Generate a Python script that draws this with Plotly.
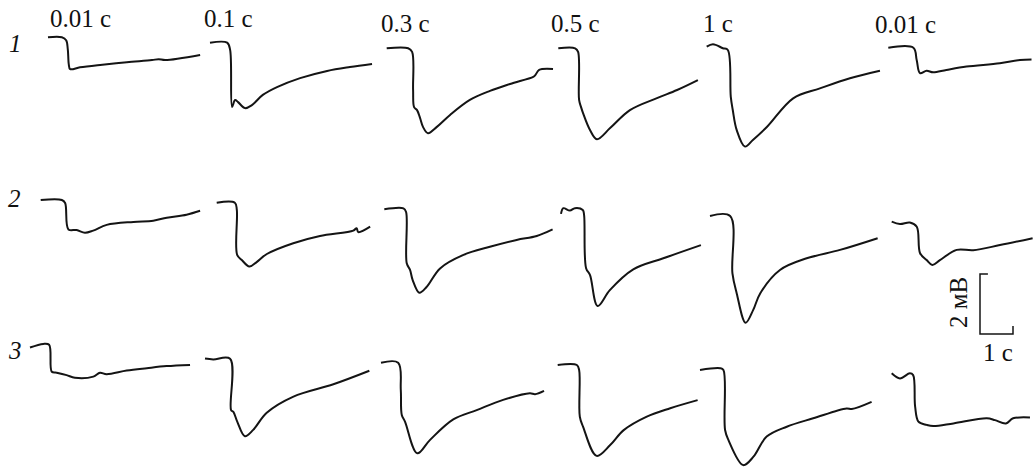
import plotly.graph_objects as go

W, H = 1033, 467
PX_PER_S = 33.0     # horizontal scale: 1 s
PX_PER_MV = 30.0    # vertical scale: 1 mV

# Stimulus durations (column headers) and series numbers (row labels)
STIM_LABELS = ["0.01 c", "0.1 c", "0.3 c", "0.5 c", "1 c", "0.01 c"]
ROW_LABELS = ["1", "2", "3"]

# Responses: time from sweep start (s) and potential relative to baseline (mV)
# series 1
t_1_1 = [0, 0.42, 0.55, 0.6, 0.63, 0.67, 0.97, 1.58, 2.39, 3.15, 3.35, 3.55, 4.61]
v_1_1 = [0, 0, -0.1, -0.4, -0.9, -1.06, -1.0, -0.92, -0.83, -0.76, -0.73, -0.76, -0.59]
t_1_2 = [0, 0.52, 0.61, 0.67, 0.76, 0.85, 1.06, 1.27, 1.6, 2.03, 2.73, 3.55, 4.24, 4.91]
v_1_2 = [0, 0, -0.24, -2.14, -1.91, -1.98, -2.18, -2.08, -1.74, -1.48, -1.18, -0.94, -0.81, -0.71]
t_1_3 = [0, 0.65, 0.77, 0.80, 0.83, 0.92, 1.01, 1.10, 1.25, 1.52, 1.92, 2.52, 3.13, 3.74, 4.44, 4.5, 4.62, 5.04]
v_1_3 = [0, 0, -0.12, -1.39, -1.96, -2.06, -2.32, -2.62, -2.83, -2.62, -2.22, -1.72, -1.42, -1.19, -0.95, -0.9, -0.72, -0.69]
t_1_4 = [0, 0.51, 0.60, 0.63, 0.69, 0.75, 0.96, 1.17, 1.57, 2.17, 2.99, 3.6, 4.23]
v_1_4 = [0, 0, -0.12, -1.72, -1.96, -2.16, -2.72, -3.03, -2.66, -2.06, -1.66, -1.39, -1.06]
t_1_5 = [0, 0.19, 0.49, 0.64, 0.73, 0.79, 0.91, 1.16, 1.40, 1.83, 2.62, 3.43, 4.34, 5.25]
v_1_5 = [0, 0.08, -0.05, -0.11, -1.67, -2.11, -2.78, -3.33, -3.11, -2.67, -1.72, -1.39, -1.05, -0.8]
t_1_6 = [0, 0.76, 0.86, 0.96, 1.16, 1.36, 1.76, 2.37, 3.38, 3.99, 4.34]
v_1_6 = [0, 0, -0.41, -0.85, -0.77, -0.82, -0.74, -0.63, -0.52, -0.41, -0.39]
# series 2
t_2_1 = [0, 0.64, 0.74, 0.84, 1.09, 1.34, 1.59, 2.0, 2.81, 3.41, 3.82, 4.42, 4.83]
v_2_1 = [0, 0, -0.1, -0.98, -1.0, -1.09, -1.02, -0.83, -0.73, -0.69, -0.59, -0.49, -0.36]
t_2_2 = [0, 0.55, 0.61, 0.62, 0.76, 0.99, 1.21, 1.52, 2.32, 3.13, 4.14, 4.24, 4.29, 4.65]
v_2_2 = [0, 0, -0.24, -1.74, -1.91, -2.13, -1.98, -1.71, -1.35, -1.11, -0.93, -0.85, -0.98, -0.8]
t_2_3 = [0, 0.58, 0.66, 0.68, 0.78, 0.86, 1.06, 1.28, 1.69, 2.4, 3.2, 4.01, 4.62, 5.1]
v_2_3 = [0, 0.03, -0.09, -1.8, -2.02, -2.36, -2.78, -2.59, -1.97, -1.52, -1.25, -1.02, -0.89, -0.67]
t_2_4 = [0, 0.07, 0.27, 0.42, 0.66, 0.70, 0.76, 0.88, 1.11, 1.48, 2.19, 3.1, 4.24]
v_2_4 = [-0.13, 0.06, -0.02, 0.06, 0, -0.17, -1.94, -2.17, -3.2, -2.67, -1.98, -1.61, -1.17]
t_2_5 = [0, 0.61, 0.68, 0.81, 1.08, 1.31, 1.52, 2.12, 2.93, 3.94, 5.08]
v_2_5 = [0, 0, -1.91, -2.58, -3.56, -3.13, -2.58, -1.8, -1.41, -1.13, -0.74]
t_2_6 = [0, 0.25, 0.55, 0.76, 0.86, 1.06, 1.23, 1.46, 1.97, 2.47, 3.28, 4.27]
v_2_6 = [0, -0.08, -0.03, -0.17, -1.05, -1.28, -1.44, -1.28, -0.94, -0.95, -0.78, -0.55]
# series 3
t_3_1 = [0, 0.4, 0.58, 0.66, 0.81, 1.11, 1.36, 1.92, 2.12, 2.32, 2.93, 3.54, 4.14, 4.85]
v_3_1 = [-0.05, 0.07, 0.04, -0.86, -0.89, -0.97, -1.06, -1.02, -0.89, -0.94, -0.82, -0.74, -0.67, -0.63]
t_3_2 = [0, 0.25, 0.76, 0.79, 0.86, 0.98, 1.21, 1.46, 1.87, 2.68, 3.89, 4.98]
v_3_2 = [0, -0.03, -0.01, -1.72, -1.78, -2.11, -2.59, -2.38, -1.81, -1.27, -0.86, -0.41]
t_3_3 = [0, 0.52, 0.6, 0.63, 0.73, 1.1, 1.48, 2.19, 2.9, 3.7, 4.51, 4.67, 4.94]
v_3_3 = [0, 0, -0.91, -1.74, -1.97, -3.02, -2.58, -1.89, -1.58, -1.24, -1.02, -1.05, -0.94]
t_3_4 = [0, 0.58, 0.65, 0.67, 0.77, 1.18, 1.59, 2.0, 2.7, 3.41, 4.24]
v_3_4 = [0, 0, -0.17, -1.72, -2.06, -3.03, -2.67, -2.17, -1.72, -1.44, -1.17]
t_3_5 = [0, 0.61, 0.71, 0.76, 0.86, 1.31, 1.62, 2.02, 2.63, 3.43, 4.44, 4.6, 5.2]
v_3_5 = [0, 0.06, 0, -2.0, -2.33, -3.17, -2.89, -2.22, -1.89, -1.61, -1.28, -1.3, -1.06]
t_3_6 = [0, 0.25, 0.55, 0.65, 0.71, 0.81, 1.06, 1.26, 1.87, 2.88, 3.13, 3.46, 3.68, 4.19]
v_3_6 = [0, -0.17, 0, -0.06, -1.11, -1.61, -1.72, -1.76, -1.67, -1.5, -1.56, -1.67, -1.5, -1.47]

# Calibration bar: 1 s by 2 mV
SCALE_T = [0.24, 0, 0, 1, 1]
SCALE_V = [2, 2, 0, 0, 0.27]

TRACES = [
    [(t_1_1, v_1_1), (t_1_2, v_1_2), (t_1_3, v_1_3), (t_1_4, v_1_4), (t_1_5, v_1_5), (t_1_6, v_1_6)],
    [(t_2_1, v_2_1), (t_2_2, v_2_2), (t_2_3, v_2_3), (t_2_4, v_2_4), (t_2_5, v_2_5), (t_2_6, v_2_6)],
    [(t_3_1, v_3_1), (t_3_2, v_3_2), (t_3_3, v_3_3), (t_3_4, v_3_4), (t_3_5, v_3_5), (t_3_6, v_3_6)],
]

# Panel origins on the page (sweep start, baseline), pixels from top-left
ORIGINS = [
    [(48, 37.3), (210, 42.7), (386.7, 48.3), (558.3, 48.3), (706.7, 46.7), (888.3, 47.7)],
    [(40.7, 200), (216.7, 202.7), (384.3, 209.3), (561, 210), (710, 216), (891.7, 221.7)],
    [(30, 346), (205, 358.5), (381, 362.7), (557.7, 365), (700, 370), (891.7, 373.3)],
]
SCALE_ORIGIN = (980, 334)

LINE = dict(color="#141414", width=2, shape="spline", smoothing=1.0)
SERIF = "Liberation Serif"
FONT_SIZE = 25

fig = go.Figure()
layout = {}
k = 0


def add_panel(t, v, origin, line):
    global k
    k += 1
    x0, y0 = origin
    xa = "x" if k == 1 else f"x{k}"
    ya = "y" if k == 1 else f"y{k}"
    xkey = "xaxis" if k == 1 else f"xaxis{k}"
    ykey = "yaxis" if k == 1 else f"yaxis{k}"
    xr = [-x0 / PX_PER_S, (W - x0) / PX_PER_S]
    yr = [-(H - y0) / PX_PER_MV, y0 / PX_PER_MV]
    layout[xkey] = dict(range=xr, visible=False, fixedrange=True)
    layout[ykey] = dict(range=yr, visible=False, fixedrange=True)
    if k > 1:
        layout[xkey]["overlaying"] = "x"
        layout[ykey]["overlaying"] = "y"
    fig.add_trace(go.Scatter(x=t, y=v, mode="lines", line=line,
                             xaxis=xa, yaxis=ya, hoverinfo="skip"))


for r, row in enumerate(TRACES):
    for c, (t, v) in enumerate(row):
        add_panel(t, v, ORIGINS[r][c], LINE)

add_panel(SCALE_T, SCALE_V, SCALE_ORIGIN, dict(color="#141414", width=1.5))

# Column headers
HEADER_POS = [(80, 19), (228, 19), (405, 24), (575, 24), (718, 23), (905, 25)]
for text, (px, py) in zip(STIM_LABELS, HEADER_POS):
    fig.add_annotation(x=px / W, y=1 - py / H, xref="paper", yref="paper",
                       text=text, showarrow=False, xanchor="center", yanchor="middle",
                       font=dict(family=SERIF, size=FONT_SIZE, color="#111"))

# Row labels
ROW_POS = [(15, 43), (14, 198), (15, 350)]
for text, (px, py) in zip(ROW_LABELS, ROW_POS):
    fig.add_annotation(x=px / W, y=1 - py / H, xref="paper", yref="paper",
                       text=f"<i>{text}</i>", showarrow=False, xanchor="center", yanchor="middle",
                       font=dict(family=SERIF, size=FONT_SIZE, color="#111"))

# Calibration labels
fig.add_annotation(x=958 / W, y=1 - 303 / H, xref="paper", yref="paper",
                   text="2 мВ", textangle=-90, showarrow=False,
                   xanchor="center", yanchor="middle",
                   font=dict(family=SERIF, size=FONT_SIZE, color="#111"))
fig.add_annotation(x=998 / W, y=1 - 352 / H, xref="paper", yref="paper",
                   text="1 c", showarrow=False, xanchor="center", yanchor="middle",
                   font=dict(family=SERIF, size=FONT_SIZE, color="#111"))

fig.update_layout(
    width=W, height=H,
    margin=dict(l=0, r=0, t=0, b=0),
    paper_bgcolor="white", plot_bgcolor="white",
    showlegend=False,
    **layout,
)

fig.write_html("out.html", config={"displayModeBar": False})
